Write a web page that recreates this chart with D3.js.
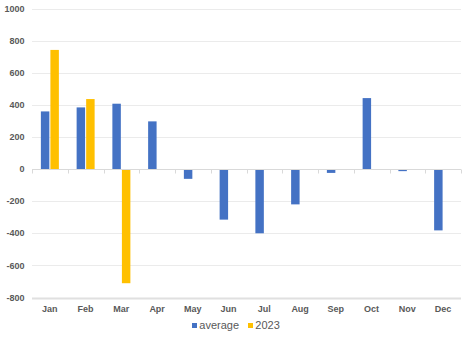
<!DOCTYPE html>
<html>
<head>
<meta charset="utf-8">
<script src="https://cdn.jsdelivr.net/npm/d3@7"></script>
<style>
  html, body { margin: 0; padding: 0; background: #fff; }
  svg { display: block; font-family: "Liberation Sans", Arial, sans-serif; }
</style>
</head>
<body>
<svg id="chart" width="468" height="338"></svg>
<script>
const months = ["Jan", "Feb", "Mar", "Apr", "May", "Jun", "Jul", "Aug", "Sep", "Oct", "Nov", "Dec"];
const average = [359, 384, 407, 297, -61, -315, -400, -220, -24, 442, -13, -382];
const y2023 = [742, 436, -711, null, null, null, null, null, null, null, null, null];
const seriesNames = ["average", "2023"];
const seriesColors = ["#4472C4", "#FFC000"];
const yTicks = [-800, -600, -400, -200, 0, 200, 400, 600, 800, 1000];

const svg = d3.select("#chart");
const margin = { left: 32, right: 7, top: 8.5, bottom: 40.5 };
const W = 468, H = 338;

const x = d3.scaleBand().domain(months).range([margin.left, W - margin.right]);
const y = d3.scaleLinear().domain([-800, 1000]).range([H - margin.bottom, margin.top]);
const barW = 8, gap = 2;
const xs = d3.scaleBand().domain(seriesNames).range([0, 2 * barW + gap]).paddingInner(gap / (2 * barW + gap));

// grid lines
svg.append("g").selectAll("line").data(yTicks.filter(d => d !== 0)).join("line")
  .attr("x1", margin.left).attr("x2", W - margin.right)
  .attr("y1", d => Math.round(y(d)) + 0.5).attr("y2", d => Math.round(y(d)) + 0.5)
  .attr("stroke", d => d === -800 ? "#e0e0e0" : "#ebebeb")
  .attr("stroke-width", d => d === -800 ? 2 : 1);

// y tick labels
svg.append("g").selectAll("text").data(yTicks).join("text")
  .attr("x", 24.5).attr("y", d => y(d)).attr("dy", "0.35em")
  .attr("text-anchor", "end")
  .attr("font-size", 9).attr("font-weight", "bold").attr("fill", "#595959")
  .text(d => d);

// bars
const series = [average, y2023];
const bars = svg.append("g");
series.forEach((vals, si) => {
  bars.selectAll(null).data(months.map((m, i) => ({ m, v: vals[i] })).filter(d => d.v != null))
    .join("rect")
    .attr("x", d => x(d.m) + (x.bandwidth() - (2 * barW + gap)) / 2 + xs(seriesNames[si]))
    .attr("width", xs.bandwidth())
    .attr("y", d => y(Math.max(0, d.v)))
    .attr("height", d => Math.abs(y(d.v) - y(0)))
    .attr("fill", seriesColors[si]);
});

// zero axis line with category ticks
const y0 = Math.round(y(0)) + 0.5;
svg.append("line").attr("x1", margin.left).attr("x2", W - margin.right)
  .attr("y1", y0).attr("y2", y0).attr("stroke", "#d9d9d9");
const bounds = months.map(m => x(m)).concat([x(months[months.length - 1]) + x.bandwidth()]);
svg.append("g").selectAll("line").data(bounds).join("line")
  .attr("x1", d => Math.round(d) + 0.5).attr("x2", d => Math.round(d) + 0.5)
  .attr("y1", y0).attr("y2", y0 + 4).attr("stroke", "#d9d9d9");

// month labels
svg.append("g").selectAll("text").data(months).join("text")
  .attr("x", d => x(d) + x.bandwidth() / 2).attr("y", 309).attr("dy", "0.35em")
  .attr("text-anchor", "middle")
  .attr("font-size", 9).attr("font-weight", "bold").attr("fill", "#595959")
  .text(d => d);

// legend
const legend = svg.append("g");
const legendItems = [{ x: 192, name: seriesNames[0], c: seriesColors[0] }, { x: 248, name: seriesNames[1], c: seriesColors[1] }];
legendItems.forEach(it => {
  legend.append("rect").attr("x", it.x).attr("y", 323).attr("width", 5).attr("height", 5).attr("fill", it.c);
  legend.append("text").attr("x", it.x + 7.3).attr("y", 325.5).attr("dy", "0.35em")
    .attr("font-size", 11).attr("fill", "#595959").text(it.name);
});
</script>
</body>
</html>
